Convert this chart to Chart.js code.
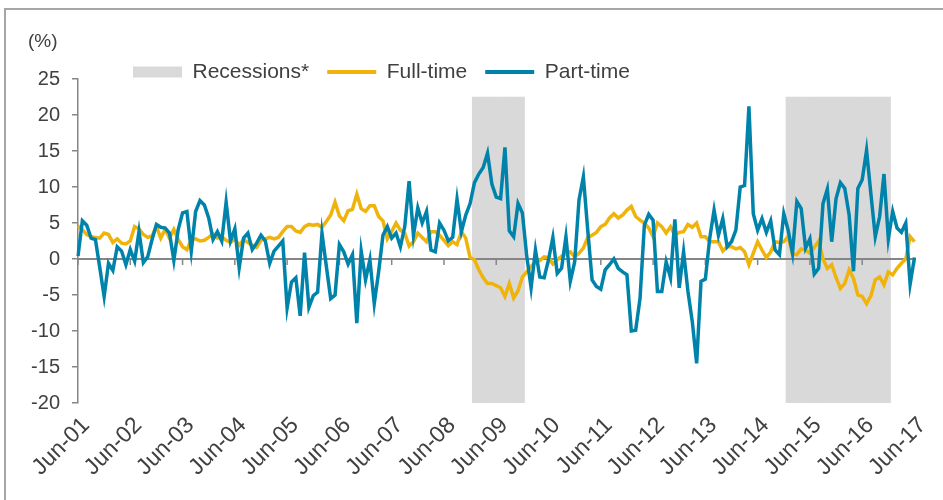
<!DOCTYPE html>
<html>
<head>
<meta charset="utf-8">
<script src="https://cdn.jsdelivr.net/npm/chart.js@4.4.0/dist/chart.umd.min.js"></script>
<style>
  html, body { margin: 0; padding: 0; background: #fff; }
  #wrap { position: relative; width: 943px; height: 500px; overflow: hidden; }
  #frame { position: absolute; left: 4px; top: 8px; right: 0; bottom: 0;
           border-top: 2px solid #a6a6a6; border-left: 2px solid #a6a6a6; }
  canvas { position: absolute; left: 0; top: 0; }
</style>
</head>
<body>
<div id="wrap">
  <div id="frame"></div>
  <canvas id="growthChart" width="943" height="500"></canvas>
</div>
<script>
// Year-on-year growth (%), monthly from Jun-01 to Jun-17
const firstYear = 2001;
const firstMonth = 5; // June
const monthNames = ['Jan', 'Feb', 'Mar', 'Apr', 'May', 'Jun', 'Jul', 'Aug', 'Sep', 'Oct', 'Nov', 'Dec'];

const fullTime = [
  4.6, 4.1, 3.4, 3.1, 3.0, 2.9, 3.6, 3.4, 2.3, 2.8, 2.2, 2.1,
  2.5, 4.5, 4.2, 3.4, 3.0, 3.2, 4.5, 2.9, 4.1, 2.9, 4.1, 2.7,
  1.7, 1.3, 2.7, 2.8, 2.5, 2.6, 3.0, 3.5, 2.9, 3.1, 2.6, 2.3,
  2.8, 1.9, 2.7, 2.3, 1.9, 1.6, 2.6, 2.8, 3.0, 2.8, 3.0, 3.8,
  4.5, 4.5, 3.9, 3.7, 4.5, 4.8, 4.7, 4.8, 4.4, 5.2, 6.1, 7.9,
  6.0, 5.3, 6.7, 6.9, 9.0, 7.0, 6.6, 7.4, 7.4, 5.9, 5.3, 2.8,
  3.8, 5.0, 4.0, 3.6, 1.8, 2.4, 3.6, 3.0, 2.4, 3.8, 3.8, 3.3,
  2.6, 1.85, 2.4, 2.0, 3.8, 2.9, 0.2, -0.1, -1.5, -2.6, -3.4, -3.4,
  -3.7, -4.0, -5.2, -3.4, -5.4, -4.4, -2.5, -1.8, -1.0, -0.5, -0.2, 0.3,
  0.2, -0.7, -0.1, 0.4, 0.8, 1.0, 0.3, 0.8, 1.5, 3.0, 3.3, 3.7,
  4.5, 4.8, 5.7, 6.3, 5.7, 6.1, 6.8, 7.3, 5.9, 5.4, 5.0, 4.3,
  3.1, 5.0, 4.5, 3.6, 4.5, 3.3, 3.7, 3.8, 4.8, 4.4, 5.0, 3.1,
  3.1, 2.4, 2.4, 2.4, 1.1, 1.7, 1.7, 1.4, 1.6, 1.0, -0.8, 0.8,
  2.4, 1.25, 0.2, 1.0, 2.4, 2.3, 2.4, 3.1, 0.7, 0.6, 1.4, 1.25,
  0.8, 1.6, 2.5, 0.0, -1.3, -0.8, -2.6, -4.1, -3.4, -1.5, -2.7, -5.0,
  -5.2, -6.2, -5.1, -2.9, -2.5, -3.6, -1.8, -2.2, -1.3, -0.6, 0.0, 3.1,
  2.4
];

const partTime = [
  0.4, 5.3, 4.7, 2.9, 2.7, -1.2, -5.2, -0.6, -1.6, 1.7, 1.1, -0.8,
  1.3, -0.3, 3.8, -0.5, 0.3, 2.7, 4.8, 4.4, 4.3, 3.6, -0.2, 4.1,
  6.4, 6.6, 1.1, 6.6, 8.1, 7.5, 5.7, 2.7, 3.8, 2.5, 7.9, 2.5,
  4.2, -1.2, 2.9, 3.6, 1.3, 2.2, 3.3, 2.5, -0.6, 1.1, 1.8, 2.5,
  -6.8, -3.2, -2.6, -7.9, 0.9, -6.7, -5.1, -4.6, 3.6, -1.0, -5.5, -5.0,
  2.0, 1.0, -0.7, 0.6, -8.9, 1.1, -2.9, -0.1, -6.2, -1.8, 3.3, 4.5,
  2.9, 3.6, 1.7, 4.5, 10.8, 3.3, 7.1, 5.0, 6.6, 1.25, 1.0, 5.0,
  4.0, 2.5, 3.0, 8.3, 3.8, 6.1, 7.7, 10.6, 11.8, 12.7, 14.7, 10.4,
  8.6, 8.4, 15.5, 3.9, 3.1, 7.7, 6.4, 0.4, -4.0, 1.25, -2.5, -2.6,
  -0.1, 3.0, -2.0, -1.3, 3.1, -3.1, -0.4, 8.2, 11.4, 4.0, -2.9, -3.8,
  -4.2, -1.5, -0.8, 0.0, -1.3, -1.8, -2.2, -10.0, -9.9, -5.5, 4.7, 6.2,
  5.4, -4.5, -4.5, -0.4, -2.6, 5.5, -4.0, 1.0, -4.5, -8.7, -14.5, -3.1,
  -2.8, 2.9, 6.8, 3.3, 5.6, 1.7, 2.4, 4.0, 10.0, 10.2, 21.2, 6.3,
  4.0, 5.6, 3.7, 5.3, 1.25, 0.6, 6.3, 4.0, 0.8, 8.0, 7.0, 1.5,
  2.8, -2.1, -1.3, 7.7, 9.7, 2.4, 8.4, 10.6, 9.8, 6.1, -1.7, 9.8,
  11.0, 15.1, 9.0, 3.1, 5.9, 11.8, 2.8, 6.6, 4.3, 3.7, 5.0, -3.5,
  0.2
];

// shaded periods (first and last month) and the band they cover on the y axis
const recessions = [['Jan-09', 'Dec-09'], ['Jan-15', 'Dec-16']];
const recessionBand = [-20, 22.5];

const yTicks = { min: -20, max: 25, step: 5 };

const textGrey = '#404040';
const axisGrey = '#868686';
const fullColor = '#efb30b';
const partColor = '#0083aa';
const shadeColor = '#d9d9d9';

// month labels, e.g. Jun-01
const months = partTime.map((v, i) => {
  const d = new Date(firstYear, firstMonth + i, 1);
  return monthNames[d.getMonth()] + '-' + String(d.getFullYear() % 100).padStart(2, '0');
});

const recessionData = months.map((m, i) =>
  recessions.some(([a, b]) => i >= months.indexOf(a) && i <= months.indexOf(b)) ? recessionBand : null
);

Chart.defaults.font.family = "'Liberation Sans', Arial, sans-serif";

// zero line with small June tick marks, drawn just above the shading
const zeroAxis = {
  id: 'zeroAxis',
  afterDatasetDraw(chart, args) {
    if (args.index !== 0) return;
    const { ctx, chartArea, scales: { x, y } } = chart;
    const y0 = y.getPixelForValue(0);
    ctx.save();
    ctx.strokeStyle = axisGrey;
    ctx.lineWidth = 2;
    ctx.beginPath();
    ctx.moveTo(chartArea.left, y0);
    ctx.lineTo(chartArea.right, y0);
    ctx.stroke();
    ctx.lineWidth = 1.5;
    months.forEach((m, i) => {
      if (!m.startsWith('Jun')) return;
      const px = x.getPixelForValue(i);
      ctx.beginPath();
      ctx.moveTo(px, y0);
      ctx.lineTo(px, y0 + 6);
      ctx.stroke();
    });
    ctx.restore();
  }
};

// put the (%) label and the legend row where they belong above the plot
const headerSpot = {
  id: 'headerSpot',
  afterLayout(chart) {
    const tb = chart.titleBlock;
    const tbH = tb.height;
    tb.top = 42 - toLine(tb.options.font) / 2;
    tb.bottom = tb.top + tbH;

    const lg = chart.legend;
    const pad = lg.options.labels.padding;
    const half = lg.options.labels.font.size / 2;
    const w = lg.width, h = lg.height;
    lg.left = 133 - pad;
    lg.right = lg.left + w;
    lg.top = 72 - pad - half;
    lg.bottom = lg.top + h;
  }
};

function toLine(font) {
  return font.size * 1.2;
}

new Chart(document.getElementById('growthChart'), {
  type: 'line',
  data: {
    labels: months,
    datasets: [
      {
        type: 'bar',
        label: 'Recessions*',
        data: recessionData,
        backgroundColor: shadeColor,
        borderWidth: 0,
        barPercentage: 1,
        categoryPercentage: 1,
        grouped: false,
        order: 3
      },
      {
        type: 'line',
        label: 'Full-time',
        data: fullTime,
        borderColor: fullColor,
        borderWidth: 3.5,
        pointRadius: 0,
        tension: 0,
        order: 2
      },
      {
        type: 'line',
        label: 'Part-time',
        data: partTime,
        borderColor: partColor,
        borderWidth: 3.5,
        pointRadius: 0,
        tension: 0,
        order: 1
      }
    ]
  },
  options: {
    responsive: false,
    animation: false,
    events: [],
    devicePixelRatio: 1,
    layout: { padding: { left: 28, right: 26, top: 7.2, bottom: 0 } },
    scales: {
      x: {
        offset: false,
        grid: { display: false, drawTicks: false, offset: false },
        border: { display: false },
        ticks: {
          autoSkip: false,
          minRotation: 45,
          maxRotation: 45,
          color: textGrey,
          font: { size: 23 },
          padding: 9,
          labelOffset: 8,
          callback: (v, i) => months[i].startsWith('Jun') ? months[i] : null
        },
        afterFit: s => { s.height = 97; }
      },
      y: {
        min: yTicks.min,
        max: yTicks.max,
        ticks: { stepSize: yTicks.step, color: textGrey, font: { size: 20 }, padding: 12 },
        grid: { drawOnChartArea: false, drawTicks: true, tickLength: 6, color: axisGrey, lineWidth: 1.5 },
        border: { display: true, color: axisGrey, width: 1.5 },
        afterFit: s => { s.width = 50; }
      }
    },
    plugins: {
      tooltip: { enabled: false },
      title: {
        display: true,
        text: '(%)',
        align: 'start',
        color: textGrey,
        font: { size: 19, weight: 'normal' },
        padding: 0
      },
      legend: {
        position: 'top',
        align: 'start',
        labels: {
          color: textGrey,
          font: { size: 21 },
          padding: 18,
          usePointStyle: true,
          pointStyleWidth: 49,
          boxHeight: 11,
          generateLabels: chart => chart.data.datasets.map((ds, i) => ({
            text: ds.label,
            fillStyle: ds.type === 'bar' ? ds.backgroundColor : ds.borderColor,
            strokeStyle: ds.type === 'bar' ? 'rgba(0,0,0,0)' : ds.borderColor,
            lineWidth: ds.type === 'bar' ? 0 : 4,
            pointStyle: ds.type === 'bar' ? 'rect' : 'line',
            fontColor: textGrey,
            datasetIndex: i,
            hidden: false
          }))
        }
      }
    }
  },
  plugins: [zeroAxis, headerSpot]
});
</script>
</body>
</html>
